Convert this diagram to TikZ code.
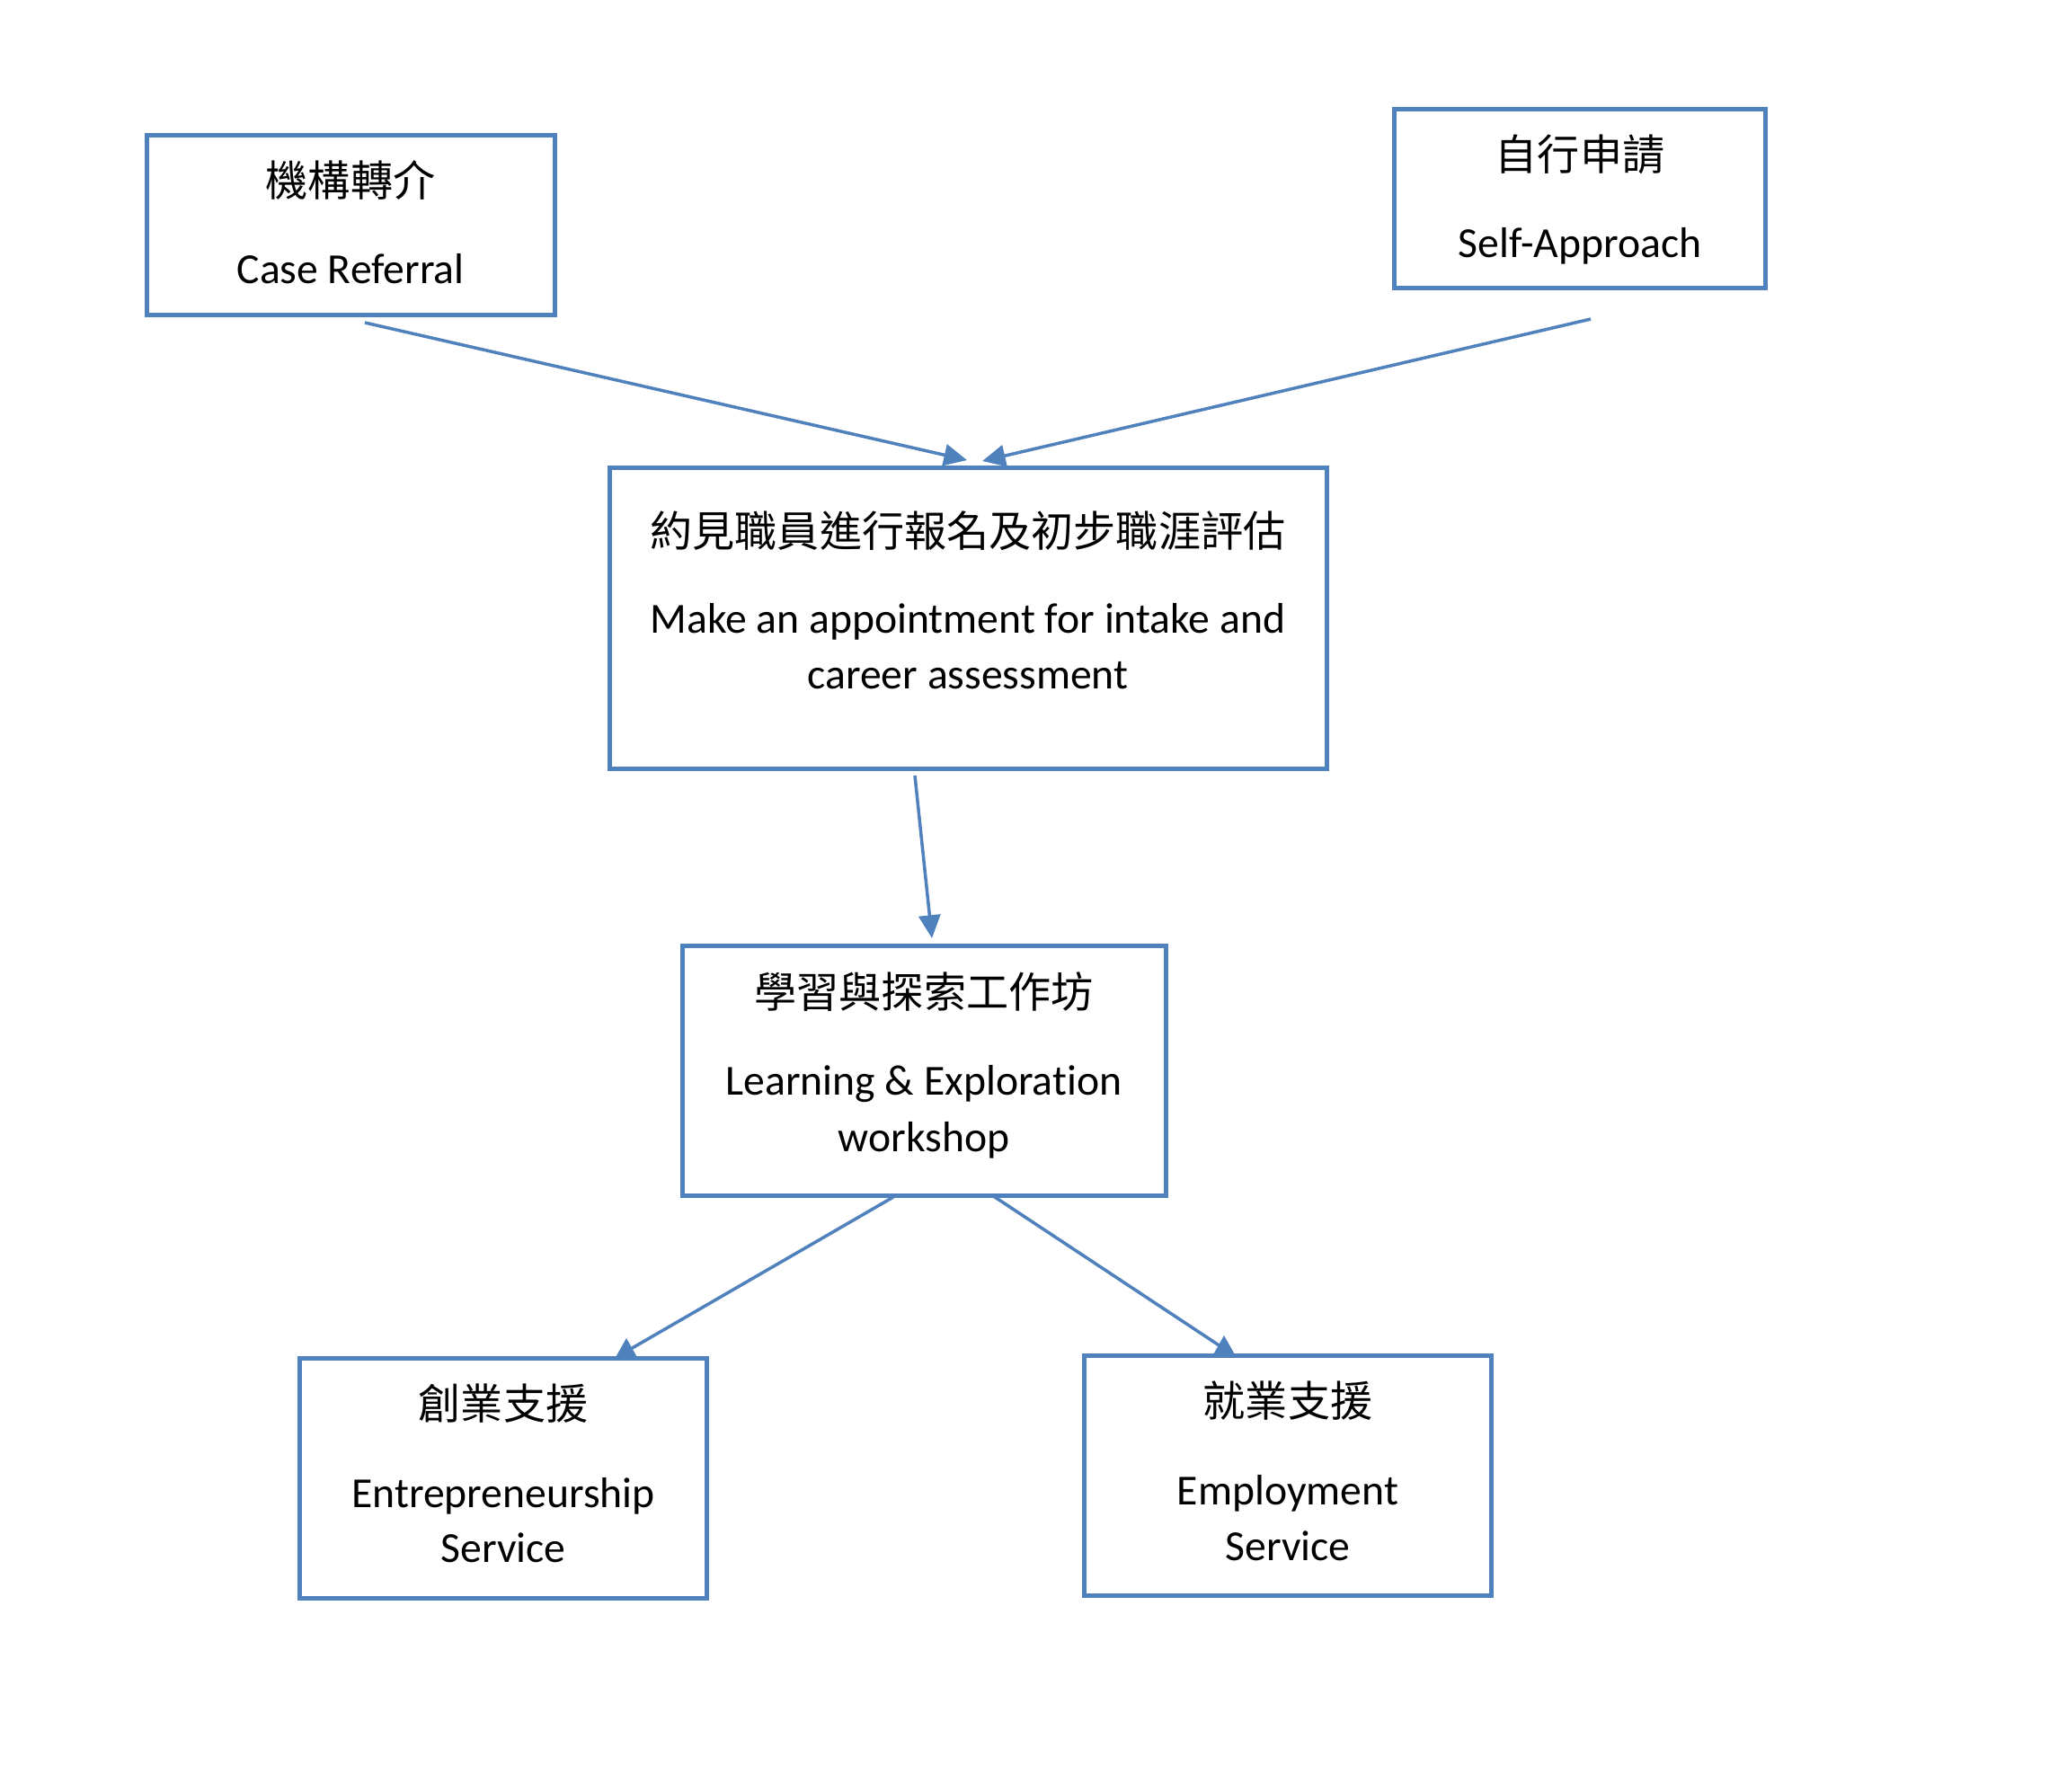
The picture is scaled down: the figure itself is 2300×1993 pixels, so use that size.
\documentclass[tikz,border=0pt]{standalone}
\usepackage{fontspec}
\setmainfont{Carlito}[Ligatures={NoCommon}]
\newfontfamily\cjk{Noto Sans CJK TC}
\usetikzlibrary{arrows.meta,calc}
\definecolor{boxblue}{RGB}{79,129,189}
\tikzset{
  box/.style={draw=boxblue, line width=1.4pt, rectangle, inner sep=0pt},
  entxt/.style={anchor=base, inner sep=0pt, font=\fontsize{13.55pt}{16pt}\selectfont},
  cjktxt/.style={anchor=base, inner sep=0pt, font=\cjk\fontsize{13.4pt}{16pt}\selectfont},
  conn/.style={draw=boxblue, line width=1pt, -{Triangle[length=7.3pt,width=6.8pt]}},
  plainconn/.style={draw=boxblue, line width=1pt},
}
\begin{document}
\begin{tikzpicture}[x=0.01cm, y=-0.01cm]
\useasboundingbox (0,0) rectangle (2300,1993);
\fill[white] (0,0) rectangle (2300,1993);

% boxes
\node[box, minimum width=4.53cm, minimum height=1.99cm] (cr) at (390.5,250.5) {};
\node[box, minimum width=4.12cm, minimum height=1.98cm] (sa) at (1758,221) {};
\node[box, minimum width=7.97cm, minimum height=3.34cm] (ct) at (1077.5,688) {};
\node[box, minimum width=5.37cm, minimum height=2.77cm] (ws) at (1028.5,1191.5) {};
\node[box, minimum width=4.52cm, minimum height=2.66cm] (en) at (560,1645) {};
\node[box, minimum width=4.52cm, minimum height=2.66cm] (em) at (1433,1642) {};

% texts
\node[cjktxt] (crC) at (390,218) {機構轉介};
\node[entxt] (crE) at (390,315) {Case Referral};

\node[cjktxt] (saC) at (1758,189) {自行申請};
\node[entxt] (saE) at (1758,286) {Self-Approach};

\node[cjktxt] (ctC) at (1077,608) {約見職員進行報名及初步職涯評估};
\node[entxt] (ctE1) at (1077,704) {Make an appointment for intake and};
\node[entxt] (ctE2) at (1077,766) {career assessment};

\node[cjktxt] (wsC) at (1028,1121) {學習與探索工作坊};
\node[entxt] (wsE1) at (1028,1218) {Learning \& Exploration};
\node[entxt] (wsE2) at (1028,1281) {workshop};

\node[cjktxt] (enC) at (560,1579) {創業支援};
\node[entxt] (enE1) at (560,1677) {Entrepreneurship};
\node[entxt] (enE2) at (560,1738) {Service};

\node[cjktxt] (emC) at (1433,1576) {就業支援};
\node[entxt] (emE1) at (1433,1674) {Employment};
\node[entxt] (emE2) at (1433,1736) {Service};

% connector end points
\coordinate (a1s) at (406,359);
\coordinate (a1e) at (1076,512);
\coordinate (a2s) at (1770,355);
\coordinate (a2e) at (1093,513);
\coordinate (a3s) at (1018,863);
\coordinate (a3e) at (1037,1044);
\coordinate (a4s) at (994,1332);
\coordinate (a4e) at (700,1502);
\coordinate (a5s) at (1104,1330);
\coordinate (a5e) at (1358,1498);

\draw[conn] (a1s) -- (a1e);
\draw[conn] (a2s) -- (a2e);
\draw[conn] (a3s) -- (a3e);
\draw[plainconn] (a4s) -- (a4e);
\draw[plainconn] (a5s) -- (a5e);
% clipped arrow heads sitting on the box tops
\fill[boxblue] (697,1489) -- (710,1512) -- (684,1512) -- cycle;
\fill[boxblue] (1362,1486) -- (1375,1509) -- (1349,1509) -- cycle;
\end{tikzpicture}
\end{document}
